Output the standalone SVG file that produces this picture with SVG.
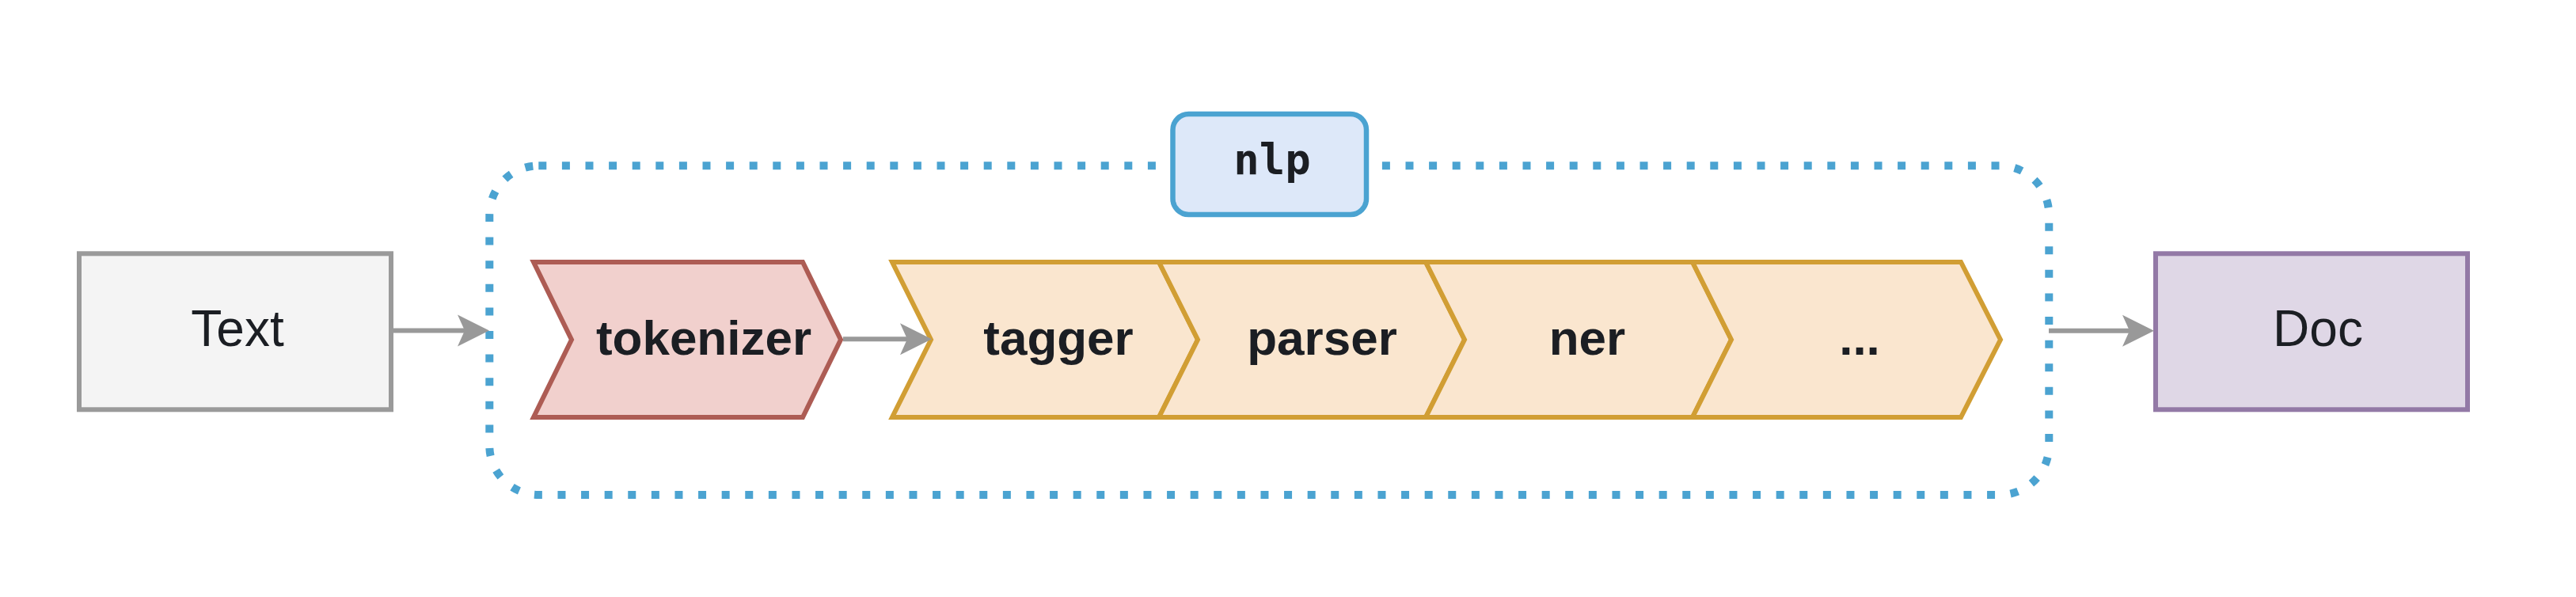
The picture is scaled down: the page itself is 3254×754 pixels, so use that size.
<svg xmlns="http://www.w3.org/2000/svg" xmlns:xlink="http://www.w3.org/1999/xlink" width="3254" height="754" viewBox="0 0 3254 754">
<style>
.lbl{font-family:"Liberation Sans",Arial,sans-serif;fill:#1b1e23;text-anchor:middle}
.big{font-size:64px}
.bold{font-size:62px;font-weight:bold}
.mono{font-family:"DejaVu Sans Mono",monospace;font-weight:bold;font-size:54px;fill:#1b1e23;text-anchor:middle}
.red{fill:#f1d0cd;stroke:#ad5c54;stroke-width:6;stroke-linejoin:miter;stroke-miterlimit:10}
.org{fill:#fae6cf;stroke:#d19e34;stroke-width:6;stroke-linejoin:miter;stroke-miterlimit:10}
.edge{fill:none;stroke:#999999;stroke-width:6}
.head{fill:#999999}
</style>
<defs>
<path id="ah" d="M0,0 L-40,-20 L-31,0 L-40,20 Z"/>
</defs>
<rect width="3254" height="754" fill="#ffffff"/>
<g id="container">
<rect x="618.3" y="209.3" width="1970" height="415.7" rx="62" ry="62" fill="none" stroke="#4ba3d1" stroke-width="10" stroke-dasharray="10 19.6"/>
</g>
<g id="text-node">
<rect x="100" y="320.3" width="394" height="197" fill="#f4f4f4" stroke="#9a9a9a" stroke-width="6"/>
<text class="lbl big" x="300" y="437">Text</text>
</g>
<g id="doc-node">
<rect x="2723" y="320.3" width="394" height="197" fill="#dfd7e6" stroke="#9379a6" stroke-width="6"/>
<text class="lbl big" x="2928" y="437">Doc</text>
</g>
<g id="nlp-label">
<rect x="1481.5" y="144" width="244.5" height="127" rx="20" ry="20" fill="#dde8f9" stroke="#4ba3d1" stroke-width="6.5"/>
<text class="mono" x="1607" y="220">nlp</text>
</g>
<g id="tokenizer">
<polygon class="red" points="674,331 1014,331 1062,429 1014,527 674,527 722,429"/>
<text class="lbl bold" x="889" y="448">tokenizer</text>
</g>
<g id="tagger">
<polygon class="org" points="1127,331 1464,331 1513,429 1464,527 1127,527 1176,429"/>
<text class="lbl bold" x="1337" y="448">tagger</text>
</g>
<g id="parser">
<polygon class="org" points="1464,331 1801,331 1850,429 1801,527 1464,527 1513,429"/>
<text class="lbl bold" x="1670" y="448">parser</text>
</g>
<g id="ner">
<polygon class="org" points="1801,331 2138,331 2187,429 2138,527 1801,527 1850,429"/>
<text class="lbl bold" x="2005" y="448">ner</text>
</g>
<g id="more">
<polygon class="org" points="2138,331 2477,331 2527,429 2477,527 2138,527 2187,429"/>
<text class="lbl bold" x="2349" y="448">...</text>
</g>
<g id="connectors">
<path class="edge" d="M497,417.5 L588,417.5"/>
<use xlink:href="#ah" class="head" transform="translate(618,417.5)"/>
<path class="edge" d="M1065,428.3 L1148,428.3"/>
<use xlink:href="#ah" class="head" transform="translate(1177,428.3)"/>
<path class="edge" d="M2588,417.7 L2692,417.7"/>
<use xlink:href="#ah" class="head" transform="translate(2721,417.7)"/>
</g>
</svg>
